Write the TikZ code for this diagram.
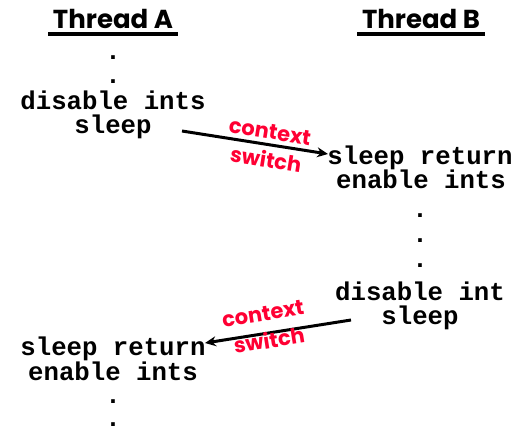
\documentclass[tikz,border=0pt]{standalone}
\usepackage{fontspec}
\setmonofont{Liberation Mono}
\newfontfamily\titlefont{Poppins}
\usetikzlibrary{arrows.meta}
\definecolor{cswred}{RGB}{255,0,51}
\begin{document}
\begin{tikzpicture}[x=1pt,y=-1pt,
  code/.style={anchor=base,inner sep=0pt,font=\fontsize{25.7}{25.7}\selectfont\ttfamily\bfseries},
  title/.style={anchor=base,inner sep=0pt,font=\fontsize{26}{26}\selectfont\titlefont\bfseries},
  cs/.style={inner sep=0pt,text=cswred,font=\fontsize{21}{21}\selectfont\titlefont\bfseries},
  csarrow/.style={line width=3pt,-{Stealth[length=11pt,width=10pt]}}]
\useasboundingbox (0,0) rectangle (518,431);
% titles
\node[title] (ta) at (113,28) {Thread A};
\node[title] (tb) at (421,28) {Thread B};
\draw[line width=3.5pt] (48,34) -- (178,34);
\draw[line width=3.5pt] (357,34) -- (485,34);
% thread A top
\node[code] (ad1) at (113,59) {.};
\node[code] (ad2) at (113,83) {.};
\node[code] (adis) at (113,109) {disable ints};
\node[code] (asleep) at (113,133) {sleep};
% thread B
\node[code] (bret) at (420,164) {sleep return};
\node[code] (ben) at (421,188) {enable ints};
\node[code] (bd1) at (420,217) {.};
\node[code] (bd2) at (420,242) {.};
\node[code] (bd3) at (420,267) {.};
\node[code] (bdis) at (420,300) {disable int};
\node[code] (bsleep) at (420,324) {sleep};
% thread A bottom
\node[code] (aret) at (113,355) {sleep return};
\node[code] (aen) at (113,380) {enable ints};
\node[code] (ad3) at (113,403) {.};
\node[code] (ad4) at (113,426) {.};
% arrows
\coordinate (s1) at (182,131);
\coordinate (e1) at (328,154);
\coordinate (s2) at (351,320);
\coordinate (e2) at (205,343);
\draw[csarrow] (s1) -- (e1);
\draw[csarrow] (s2) -- (e2);
% labels
\node[cs,rotate=-9] (c1) at (270,132) {context};
\node[cs,rotate=-9] (w1) at (266,159) {switch};
\node[cs,rotate=9] (c2) at (263,314) {context};
\node[cs,rotate=9] (w2) at (269,340) {switch};
\end{tikzpicture}
\end{document}
